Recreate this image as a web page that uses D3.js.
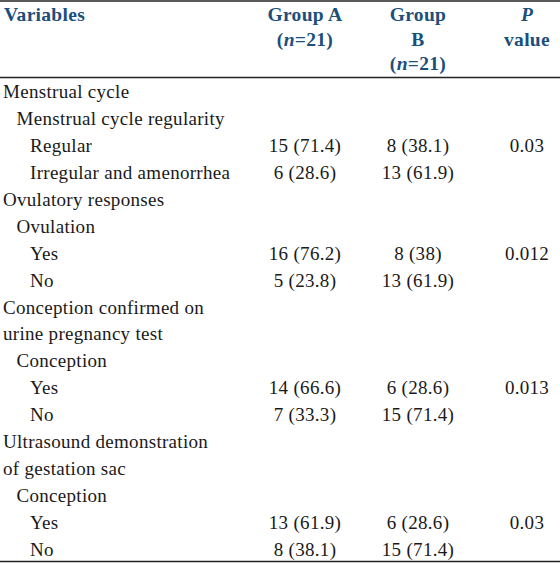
<!DOCTYPE html>
<html>
<head>
<meta charset="utf-8">
<script src="https://cdn.jsdelivr.net/npm/d3@7"></script>
<style>
html,body{margin:0;padding:0;background:#fff;}
svg{display:block;}
</style>
</head>
<body>
<svg id="chart" width="560" height="563"></svg>
<script>
// ---- data ----
const headers = [
  {key:"var",  lines:[["Variables"]], align:"start"},
  {key:"a",    lines:[["Group A"],[["(",""],["n","i"],["=21)",""]]], align:"middle"},
  {key:"b",    lines:[["Group"],["B"],[["(",""],["n","i"],["=21)",""]]], align:"middle"},
  {key:"p",    lines:[[["P","i"]],["value"]], align:"middle"}
];
const labels = [
  "Menstrual cycle","Menstrual cycle regularity","Regular","Irregular and amenorrhea",
  "Ovulatory responses","Ovulation","Yes","No",
  "Conception confirmed on","urine pregnancy test","Conception","Yes","No",
  "Ultrasound demonstration","of gestation sac","Conception","Yes","No"
];
const indents = [0,1,2,2, 0,1,2,2, 0,0,1,2,2, 0,0,1,2,2];
const groupA = ["","","15 (71.4)","6 (28.6)", "","","16 (76.2)","5 (23.8)", "","","","14 (66.6)","7 (33.3)", "","","","13 (61.9)","8 (38.1)"];
const groupB = ["","","8 (38.1)","13 (61.9)", "","","8 (38)","13 (61.9)", "","","","6 (28.6)","15 (71.4)", "","","","6 (28.6)","15 (71.4)"];
const pValues = ["","","0.03","", "","","0.012","", "","","","0.013","", "","","","0.03",""];

// ---- layout ----
const svg = d3.select("#chart");
const W = 560;
const headColor = "#1b4f7c";
const font = "'Liberation Serif','Times New Roman',serif";
const colX = {var:3, a:305, b:418, p:527};
const indentScale = d3.scaleLinear().domain([0,2]).range([3,30]);

svg.append("line").attr("x1",0).attr("x2",W).attr("y1",1).attr("y2",1)
  .attr("stroke","#222").attr("stroke-width",1.5);
svg.append("line").attr("x1",0).attr("x2",W).attr("y1",77.5).attr("y2",77.5)
  .attr("stroke","#222").attr("stroke-width",1.5);

const headY = d3.scaleLinear().domain([0,1]).range([21,45.5]);
headers.forEach(h=>{
  h.lines.forEach((ln,i)=>{
    const t = svg.append("text")
      .attr("x", h.key==="var"?4:colX[h.key])
      .attr("y", headY(i))
      .attr("text-anchor", h.align)
      .attr("font-family", font)
      .attr("font-size", 19.5)
      .attr("letter-spacing", 0.3)
      .attr("font-weight","bold")
      .attr("fill", headColor);
    ln.forEach(seg=>{
      if (typeof seg === "string") t.append("tspan").text(seg);
      else t.append("tspan").attr("font-style", seg[1]==="i"?"italic":null).text(seg[0]);
    });
  });
});

// body rows
const rowY = d3.scaleLinear().domain([0, labels.length-1]).range([98, 556]);
const g = svg.append("g").attr("font-family", font).attr("font-size",19)
  .attr("letter-spacing",0.3).attr("fill","#1a1a1a");
labels.forEach((lab,i)=>{
  const y = rowY(i);
  g.append("text").attr("x", indentScale(indents[i])).attr("y", y).text(lab);
  if (groupA[i]) g.append("text").attr("x", colX.a).attr("y", y).attr("text-anchor","middle").text(groupA[i]);
  if (groupB[i]) g.append("text").attr("x", colX.b).attr("y", y).attr("text-anchor","middle").text(groupB[i]);
  if (pValues[i]) g.append("text").attr("x", colX.p).attr("y", y).attr("text-anchor","middle").text(pValues[i]);
});

svg.append("line").attr("x1",0).attr("x2",W).attr("y1",561.5).attr("y2",561.5)
  .attr("stroke","#222").attr("stroke-width",1.5);
</script>
</body>
</html>
